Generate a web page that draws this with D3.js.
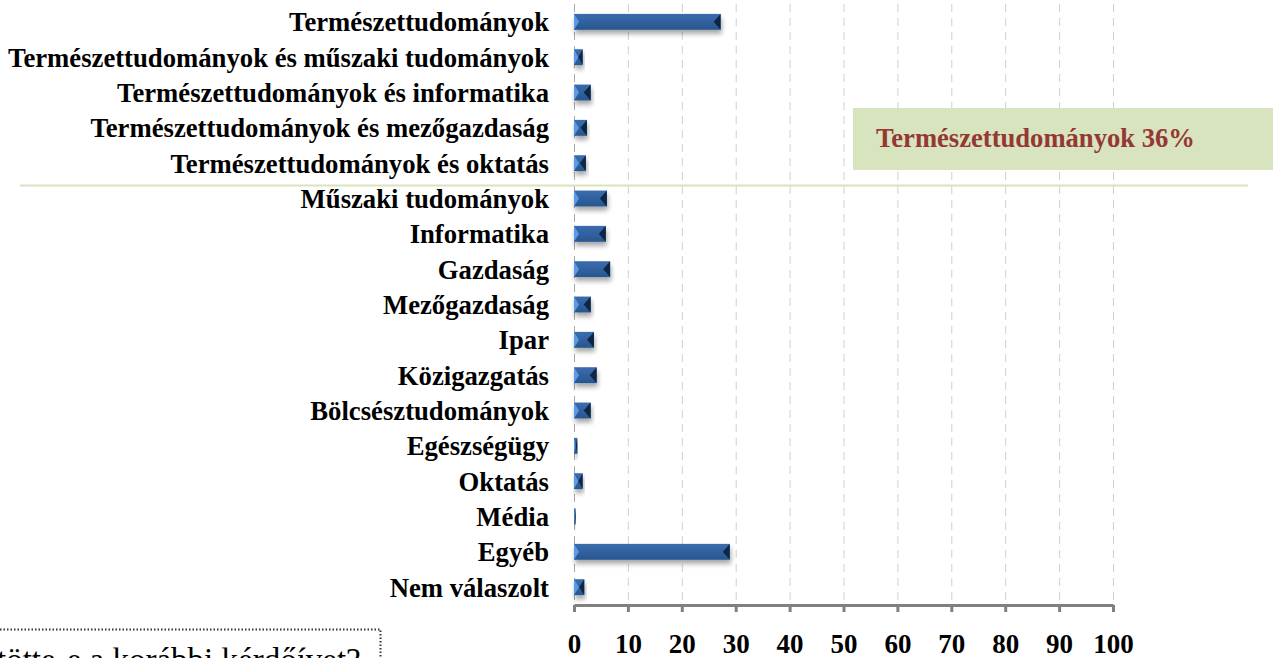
<!DOCTYPE html>
<html><head><meta charset="utf-8">
<script src="https://cdn.jsdelivr.net/npm/d3@7"></script>
<style>html,body{margin:0;padding:0;background:#fff;overflow:hidden}</style>
</head><body>
<svg id="chart" width="1282" height="658"></svg>
<script>
const categories = [
  "Természettudományok",
  "Természettudományok és műszaki tudományok",
  "Természettudományok és informatika",
  "Természettudományok és mezőgazdaság",
  "Természettudományok és oktatás",
  "Műszaki tudományok",
  "Informatika",
  "Gazdaság",
  "Mezőgazdaság",
  "Ipar",
  "Közigazgatás",
  "Bölcsésztudományok",
  "Egészségügy",
  "Oktatás",
  "Média",
  "Egyéb",
  "Nem válaszolt"
];
const values = [27.2, 1.6, 3.1, 2.4, 2.2, 6.1, 5.9, 6.7, 3.1, 3.7, 4.2, 3.1, 0.6, 1.6, 0.3, 28.9, 1.9];
const xTicks = [0, 10, 20, 30, 40, 50, 60, 70, 80, 90, 100];
const calloutText = "Természettudományok 36%";
const footerText = "tötte-e a korábbi kérdőívet?";

(function () {
const svg = d3.select("#chart");
const pL = 574, pR = 1113, pT = 4, pB = 605;
const serif = "Liberation Serif, Times New Roman, serif";
const x = d3.scaleLinear().domain([0, 100]).range([pL, pR]);
const y = d3.scaleBand().domain(categories).range([pT, pB]).paddingInner(0.55).paddingOuter(0.28);

const defs = svg.append("defs");
const g1 = defs.append("linearGradient").attr("id", "barGrad").attr("x1", 0).attr("y1", 0).attr("x2", 0).attr("y2", 1);
g1.append("stop").attr("offset", "0%").attr("stop-color", "#3b6cae");
g1.append("stop").attr("offset", "100%").attr("stop-color", "#27568f");
const f = defs.append("filter").attr("id", "shadow").attr("x", "-20%").attr("y", "-50%").attr("width", "140%").attr("height", "250%");
f.append("feGaussianBlur").attr("in", "SourceAlpha").attr("stdDeviation", 2.5).attr("result", "b");
f.append("feOffset").attr("in", "b").attr("dx", 1).attr("dy", 4).attr("result", "o");
f.append("feComponentTransfer").attr("in", "o").attr("result", "o2").append("feFuncA").attr("type", "linear").attr("slope", 0.35);
const fm = f.append("feMerge");
fm.append("feMergeNode").attr("in", "o2");
fm.append("feMergeNode").attr("in", "SourceGraphic");

// gridlines
svg.append("g").selectAll("line").data(xTicks.slice(1)).join("line")
  .attr("x1", d => x(d) + 0.5).attr("x2", d => x(d) + 0.5)
  .attr("y1", pT).attr("y2", pB)
  .attr("stroke", "#cfcfcf").attr("stroke-width", 1).attr("stroke-dasharray", "8,6");
svg.append("line").attr("x1", x(0) + 0.5).attr("x2", x(0) + 0.5).attr("y1", pT).attr("y2", pB)
  .attr("stroke", "#a8a8a8").attr("stroke-width", 1).attr("stroke-dasharray", "8,6");

// green separator line
svg.append("line").attr("x1", 20).attr("x2", 1248).attr("y1", 185.5).attr("y2", 185.5)
  .attr("stroke", "#d7e4bd").attr("stroke-width", 2);

// callout box
svg.append("rect").attr("x", 853).attr("y", 108).attr("width", 420).attr("height", 62)
  .attr("fill", "#d7e4bd");
svg.append("text").attr("x", 876).attr("y", 147).text(calloutText)
  .attr("font-family", serif).attr("font-weight", "bold")
  .attr("font-size", 26.6).attr("fill", "#953735");

// bars
const bars = svg.append("g").selectAll("g").data(categories).join("g").attr("filter", "url(#shadow)");
bars.each(function (c, i) {
  const g = d3.select(this);
  const x0 = x(0), x1 = x(values[i]);
  const y0 = y(c), h = y.bandwidth(), w = x1 - x0;
  const ym = y0 + h / 2;
  const dl = Math.min(5, w / 2), dr = Math.min(7, w / 2);
  g.append("rect").attr("x", x0).attr("y", y0).attr("width", w).attr("height", h).attr("fill", "url(#barGrad)");
  g.append("polygon").attr("points", [[x0, y0], [x0 + dl, ym], [x0, y0 + h]].join(" ")).attr("fill", "#5a9be6");
  g.append("polygon").attr("points", [[x1, y0], [x1 - dr, ym], [x1, y0 + h]].join(" ")).attr("fill", "#0f2845");
});

// category labels
svg.append("g").selectAll("text").data(categories).join("text")
  .attr("x", 549).attr("y", d => y(d) + y.bandwidth() / 2).attr("dy", "0.35em")
  .attr("text-anchor", "end").text(d => d)
  .attr("font-family", serif).attr("font-weight", "bold")
  .attr("font-size", 26.7).attr("fill", "#000");

// x axis
const axis = svg.append("g").attr("transform", `translate(0,${pB})`)
  .call(d3.axisBottom(x).tickValues(xTicks).tickSize(7).tickSizeOuter(0).tickPadding(22));
axis.select(".domain").attr("stroke", "#808080").attr("stroke-width", 3);
axis.selectAll(".tick line").attr("stroke", "#808080").attr("stroke-width", 3);
axis.selectAll(".tick text").attr("font-family", serif)
  .attr("font-weight", "bold").attr("font-size", 27).attr("fill", "#000");

// footer dotted box and clipped text
svg.append("path").attr("d", "M0,629.5 H380.5 V658").attr("fill", "none")
  .attr("stroke", "#333").attr("stroke-width", 2).attr("stroke-dasharray", "1.5,2");
svg.append("text").attr("x", -3).attr("y", 671).text(footerText)
  .attr("font-family", serif).attr("font-size", 33).attr("fill", "#000");
})();
</script>
</body></html>
